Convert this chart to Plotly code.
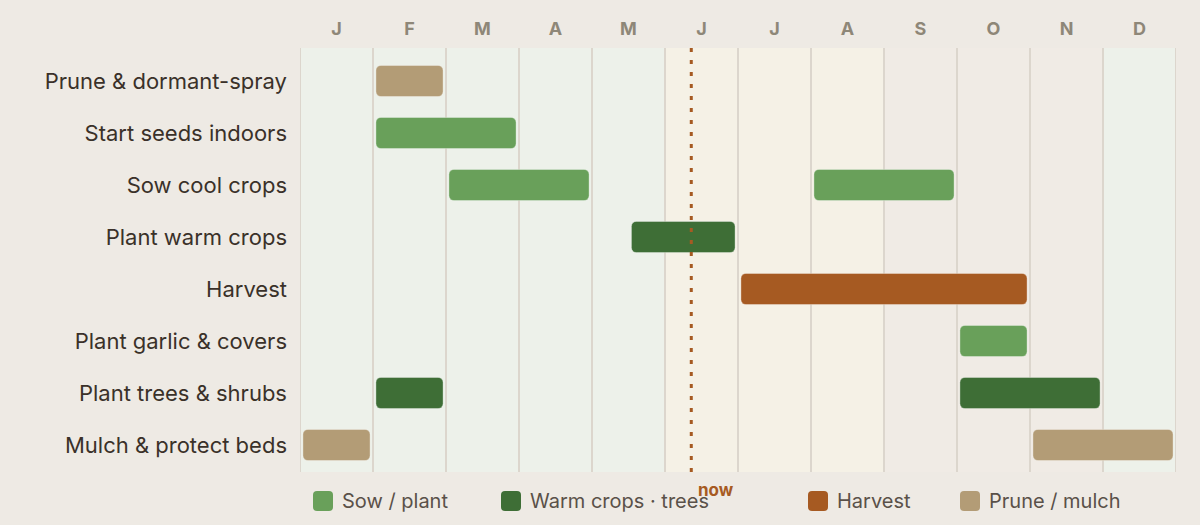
import plotly.graph_objects as go

# ---------------- data ----------------
months = ["J", "F", "M", "A", "M", "J", "J", "A", "S", "O", "N", "D"]
month_season = ["winter", "winter", "spring", "spring", "spring", "summer",
                "summer", "summer", "autumn", "autumn", "autumn", "winter"]

tasks = ["Prune & dormant-spray", "Start seeds indoors", "Sow cool crops",
         "Plant warm crops", "Harvest", "Plant garlic & covers",
         "Plant trees & shrubs", "Mulch & protect beds"]

bar_task = ["Prune & dormant-spray", "Start seeds indoors", "Sow cool crops",
            "Sow cool crops", "Plant warm crops", "Harvest",
            "Plant garlic & covers", "Plant trees & shrubs",
            "Plant trees & shrubs", "Mulch & protect beds", "Mulch & protect beds"]
bar_start = [1, 1, 2, 7, 4.5, 6, 9, 1, 9, 0, 10]
bar_end = [2, 3, 4, 9, 6, 10, 10, 2, 11, 1, 12]
bar_kind = ["prune", "sow", "sow", "sow", "warm", "harvest", "sow",
            "warm", "warm", "prune", "prune"]

kinds = ["sow", "warm", "harvest", "prune"]
kind_labels = ["Sow / plant", "Warm crops · trees", "Harvest", "Prune / mulch"]

now_month = 5.36  # ~ 11 June

# ---------------- styles ----------------
kind_colors = {"sow": "#69A05A", "warm": "#3E6E36", "harvest": "#A65A22", "prune": "#B39C76"}
season_colors = {"winter": "#EDF1EA", "spring": "#EDF1EA", "summer": "#F5F1E6", "autumn": "#F0EBE5"}
BG = "#EEEAE4"
FONT = "Inter, 'Open Sans', sans-serif"

W, H = 1200, 525
ML, MR, MT, MB = 300, 24, 48, 53
PW, PH = W - ML - MR, H - MT - MB


def pxx(px):
    return (px - ML) / PW


def pxy(py):
    return (H - MB - py) / PH


inset = 0.04

fig = go.Figure()
for k in kinds:
    idx = [i for i, kk in enumerate(bar_kind) if kk == k]
    fig.add_trace(go.Bar(
        orientation="h",
        y=[bar_task[i] for i in idx],
        base=[bar_start[i] + inset for i in idx],
        x=[bar_end[i] - bar_start[i] - 2 * inset for i in idx],
        width=0.6,
        marker=dict(color=kind_colors[k], cornerradius=5,
                    line=dict(width=1, color="rgba(255,255,255,0.35)")),
        name=kind_labels[kinds.index(k)],
        showlegend=False,
        hoverinfo="skip",
    ))

shapes = []
# season column shading
for i, s in enumerate(month_season):
    shapes.append(dict(type="rect", xref="x", yref="paper", x0=i, x1=i + 1, y0=0, y1=1,
                       fillcolor=season_colors[s], line=dict(width=0), layer="below"))
# month separators
for i in range(len(months) + 1):
    shapes.append(dict(type="line", xref="x", yref="paper", x0=i, x1=i, y0=0, y1=1,
                       line=dict(color="#DCD6CD", width=2), layer="below"))
# now line
shapes.append(dict(type="line", xref="x", yref="paper", x0=now_month, x1=now_month, y0=0, y1=1,
                   line=dict(color="#A65A22", width=3, dash="4px,8px"), layer="above"))

annotations = [dict(x=now_month, xref="x", y=0, yref="paper", text="<b>now</b>",
                    showarrow=False, xanchor="left", yanchor="top", xshift=5, yshift=-6,
                    font=dict(family=FONT, size=17, color="#A65A22"))]

# custom legend
legend_px = [313, 501, 808, 960]
sw = 20
r = 4
cy = 501
for k, lab, lx in zip(kinds, kind_labels, legend_px):
    x0, x1 = pxx(lx), pxx(lx + sw)
    y0, y1 = pxy(cy + sw / 2), pxy(cy - sw / 2)
    rx, ry = r / PW, r / PH
    path = (f"M{x0+rx},{y1} L{x1-rx},{y1} Q{x1},{y1} {x1},{y1-ry} "
            f"L{x1},{y0+ry} Q{x1},{y0} {x1-rx},{y0} L{x0+rx},{y0} "
            f"Q{x0},{y0} {x0},{y0+ry} L{x0},{y1-ry} Q{x0},{y1} {x0+rx},{y1} Z")
    shapes.append(dict(type="path", xref="paper", yref="paper", path=path,
                       fillcolor=kind_colors[k], line=dict(width=0)))
    annotations.append(dict(x=pxx(lx + sw + 7), xref="paper", y=pxy(cy), yref="paper",
                            text=lab, showarrow=False, xanchor="left", yanchor="middle",
                            font=dict(family=FONT, size=20, color="#5A5149")))

# y range so that rows sit where the reference puts them
row_top_px, row_step_px = 81, 52
y_top = -(row_top_px - MT) / row_step_px
y_bot = (len(tasks) - 1) + ((H - MB) - (row_top_px + row_step_px * (len(tasks) - 1))) / row_step_px

fig.update_layout(
    width=W, height=H,
    margin=dict(l=ML, r=MR, t=MT, b=MB, pad=0),
    paper_bgcolor=BG, plot_bgcolor=BG,
    barmode="overlay",
    shapes=shapes,
    annotations=annotations,
    showlegend=False,
    xaxis=dict(range=[0, 12], side="top", tickvals=[i + 0.5 for i in range(12)],
               ticktext=[f"<b>{m}</b>" for m in months], showgrid=False, zeroline=False,
               ticks="", showline=False, ticklabelstandoff=8,
               tickfont=dict(family=FONT, size=18, color="#8E8778"), fixedrange=True),
    yaxis=dict(type="category", categoryorder="array", categoryarray=tasks,
               range=[y_bot, y_top], showgrid=False, zeroline=False,
               ticks="", showline=False, ticklabelstandoff=12,
               tickfont=dict(family=FONT, size=22, color="#3A3129"), fixedrange=True),
)

fig.write_html("out.html")
